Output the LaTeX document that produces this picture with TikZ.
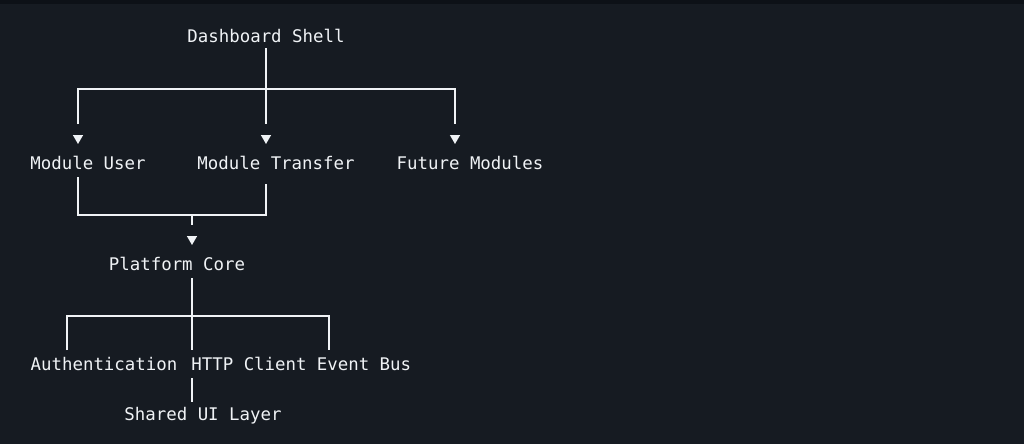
\documentclass[tikz,border=0pt]{standalone}
\usepackage{fontspec}
\setmonofont{DejaVu Sans Mono}
\usetikzlibrary{arrows.meta, positioning}
\definecolor{bgcol}{HTML}{161B22}
\definecolor{topbar}{HTML}{0D1117}
\definecolor{fgcol}{HTML}{F0F3F6}

\begin{document}
\begin{tikzpicture}[
        x=1pt, y=-1pt,
        label/.style={text=fgcol, font=\ttfamily\fontsize{17.4}{20}\selectfont, inner sep=0pt, anchor=base},
        wire/.style={draw=fgcol, line width=1.4pt},
        tip/.style={wire, -{Triangle[width=10pt,length=9pt]}},
        ]
        \fill[bgcol] (0,0) rectangle (1024,444);
        \fill[topbar] (0,0) rectangle (1024,4);
        \useasboundingbox (0,0) rectangle (1024,444);

        \node[label] (shell)    at (266,43)  {Dashboard Shell};
        \node[label] (m_user)   at (88,169)  {Module User};
        \node[label] (m_trans)  at (276,169) {Module Transfer};
        \node[label] (m_future) at (470,169) {Future Modules};
        \node[label] (core)     at (177,270) {Platform Core};
        \node[label] (auth)     at (104,370) {Authentication};
        \node[label] (http)     at (249,370) {HTTP Client};
        \node[label] (bus)      at (364,370) {Event Bus};
        \node[label] (shared)   at (203,420) {Shared UI Layer};

        % bus junctions
        \coordinate (top_bus) at (266,89);
        \coordinate (mod_bus) at (192,215);
        \coordinate (core_bus) at (192,316);

        \draw[wire] (shell.south -| top_bus) ++(0,5) -- (top_bus);
        \draw[wire] (78,124) -- (78,89) -- (455,89) -- (455,124);
        \draw[wire] (top_bus) -- (266,124);
        \foreach \px in {78,266,455}
          \draw[tip] (\px,135) -- (\px,144);

        \draw[wire] (m_user.south -| 78,0) ++(0,8) -- (78,215) -- (266,215) -- (266,184);
        \draw[wire] (mod_bus) -- (192,225);
        \draw[tip] (192,236) -- (192,245);

        \draw[wire] (core.south -| core_bus) ++(0,8) -- (core_bus);
        \draw[wire] (67,350) -- (67,316) -- (329,316) -- (329,350);
        \draw[wire] (core_bus) -- (192,350);

        \draw[wire] (http.south -| 192,0) ++(0,8) -- (192,402);
      \end{tikzpicture}
\end{document}
